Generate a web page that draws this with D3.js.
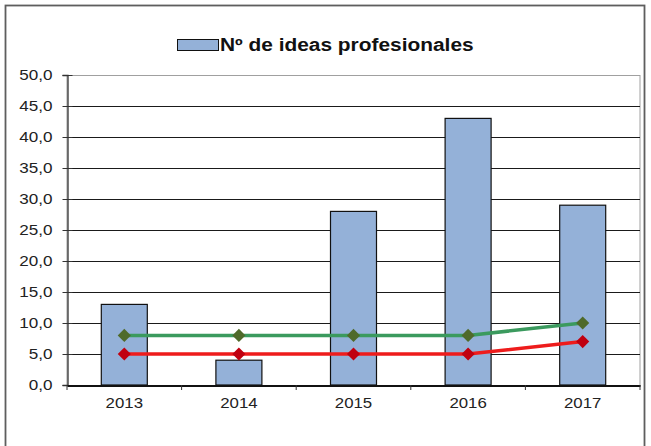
<!DOCTYPE html>
<html>
<head>
<meta charset="utf-8">
<script src="https://cdn.jsdelivr.net/npm/d3@7"></script>
<style>
  body { margin: 0; background: #fff; }
  svg { display: block; font-family: Arial, "Liberation Sans", sans-serif; }
</style>
</head>
<body>
<script>
const years = ["2013", "2014", "2015", "2016", "2017"]
const ideas = [13, 4, 28, 43, 29]
const greenSeries = [8, 8, 8, 8, 10]
const redSeries = [5, 5, 5, 5, 7]
const yTicks = [0, 5, 10, 15, 20, 25, 30, 35, 40, 45, 50]
const legendLabel = "Nº de ideas profesionales"

const width = 651, height = 446
const margin = { left: 67, right: 11, top: 75, bottom: 61 }

const svg = d3.select("body").append("svg")
    .attr("width", width)
    .attr("height", height)

// the reference text looks stretched sideways, so widen glyphs a bit
function stretch(sel, k) {
  sel.each(function () {
    const w = this.getComputedTextLength()
    d3.select(this)
      .attr("textLength", w * k)
      .attr("lengthAdjust", "spacingAndGlyphs")
  })
}

// outer frame
svg.append("rect")
   .attr("x", 5.5).attr("y", 5.5)
   .attr("width", 639).attr("height", 450)
   .attr("fill", "#fff")
   .attr("stroke", "#5e5e5e")
   .attr("stroke-width", 1.8)

const x = d3.scaleBand()
    .domain(years)
    .range([margin.left, width - margin.right])

const y = d3.scaleLinear()
    .domain([0, 50])
    .range([height - margin.bottom, margin.top])

// plot area right/top border (grey)
svg.append("rect")
   .attr("x", margin.left).attr("y", y(50) + 0.5)
   .attr("width", width - margin.right - margin.left)
   .attr("height", y(0) - y(50))
   .attr("fill", "none")
   .attr("stroke", "#a0a0a0")

// gridlines
svg.append("g")
   .selectAll("line")
   .data(yTicks.filter(d => d > 0 && d < 50))
   .join("line")
   .attr("x1", margin.left).attr("x2", width - margin.right)
   .attr("y1", d => Math.round(y(d)) + 0.5)
   .attr("y2", d => Math.round(y(d)) + 0.5)
   .attr("stroke", "#1a1a1a")
   .attr("stroke-width", 1.2)

// y axis
const yAxis = d3.axisLeft(y)
    .tickValues(yTicks)
    .tickSize(5)
    .tickFormat(d => d3.format(".1f")(d).replace(".", ","))

const gy = svg.append("g")
   .attr("transform", `translate(${margin.left + 0.5},0)`)
   .call(yAxis)
gy.select(".domain").attr("stroke", "#333").attr("stroke-width", 1.3)
gy.selectAll(".tick line").attr("stroke", "#333").attr("x2", -5).attr("x1", 5)
gy.selectAll(".tick text")
  .attr("font-size", 14)
  .attr("font-family", "Arial, 'Liberation Sans', sans-serif")
  .attr("fill", "#222")
  .attr("x", -15)
  .call(stretch, 1.22)

// bars
const barW = 46
svg.append("g")
   .selectAll("rect")
   .data(years)
   .join("rect")
   .attr("x", d => x(d) + x.bandwidth() / 2 - barW / 2)
   .attr("y", (d, i) => y(ideas[i]))
   .attr("width", barW)
   .attr("height", (d, i) => y(0) - y(ideas[i]))
   .attr("fill", "#94b1d8")
   .attr("stroke", "#111")
   .attr("stroke-width", 1.2)

// x axis
const xAxis = d3.axisBottom(x).tickSize(0).tickPadding(12)
const gx = svg.append("g")
   .attr("transform", `translate(0,${y(0) + 0.5})`)
   .call(xAxis)
gx.select(".domain").attr("stroke", "#111").attr("stroke-width", 2)
gx.selectAll(".tick text")
  .attr("font-size", 15)
  .attr("font-family", "Arial, 'Liberation Sans', sans-serif")
  .attr("fill", "#222")
  .call(stretch, 1.12)

// x category ticks at band edges
svg.append("g")
   .selectAll("line")
   .data(years.map(d => x(d)).concat([width - margin.right]))
   .join("line")
   .attr("x1", d => d).attr("x2", d => d)
   .attr("y1", y(0)).attr("y2", y(0) + 5)
   .attr("stroke", "#333")

// lines
const cx = (d, i) => x(years[i]) + x.bandwidth() / 2
const line = d3.line().x(cx).y(d => y(d))

function drawSeries(values, lineColor, markerColor) {
  svg.append("path")
     .datum(values)
     .attr("d", line)
     .attr("fill", "none")
     .attr("stroke", lineColor)
     .attr("stroke-width", 3.5)
  svg.append("g")
     .selectAll("path")
     .data(values)
     .join("path")
     .attr("d", d3.symbol(d3.symbolDiamond2, 110))
     .attr("transform", (d, i) => `translate(${cx(d, i)},${y(d)})`)
     .attr("fill", markerColor)
}
drawSeries(greenSeries, "#3b9a5e", "#4f6a2a")
drawSeries(redSeries, "#ee1c1c", "#c00010")

// legend
const lg = svg.append("g")
lg.append("rect")
  .attr("x", 177.5).attr("y", 39.5)
  .attr("width", 41).attr("height", 11)
  .attr("fill", "#94b1d8")
  .attr("stroke", "#111")
lg.append("text")
  .attr("x", 220).attr("y", 51)
  .attr("font-size", 18)
  .attr("font-weight", "bold")
  .attr("fill", "#111")
  .text(legendLabel)
  .call(stretch, 1.16)
</script>
</body>
</html>
